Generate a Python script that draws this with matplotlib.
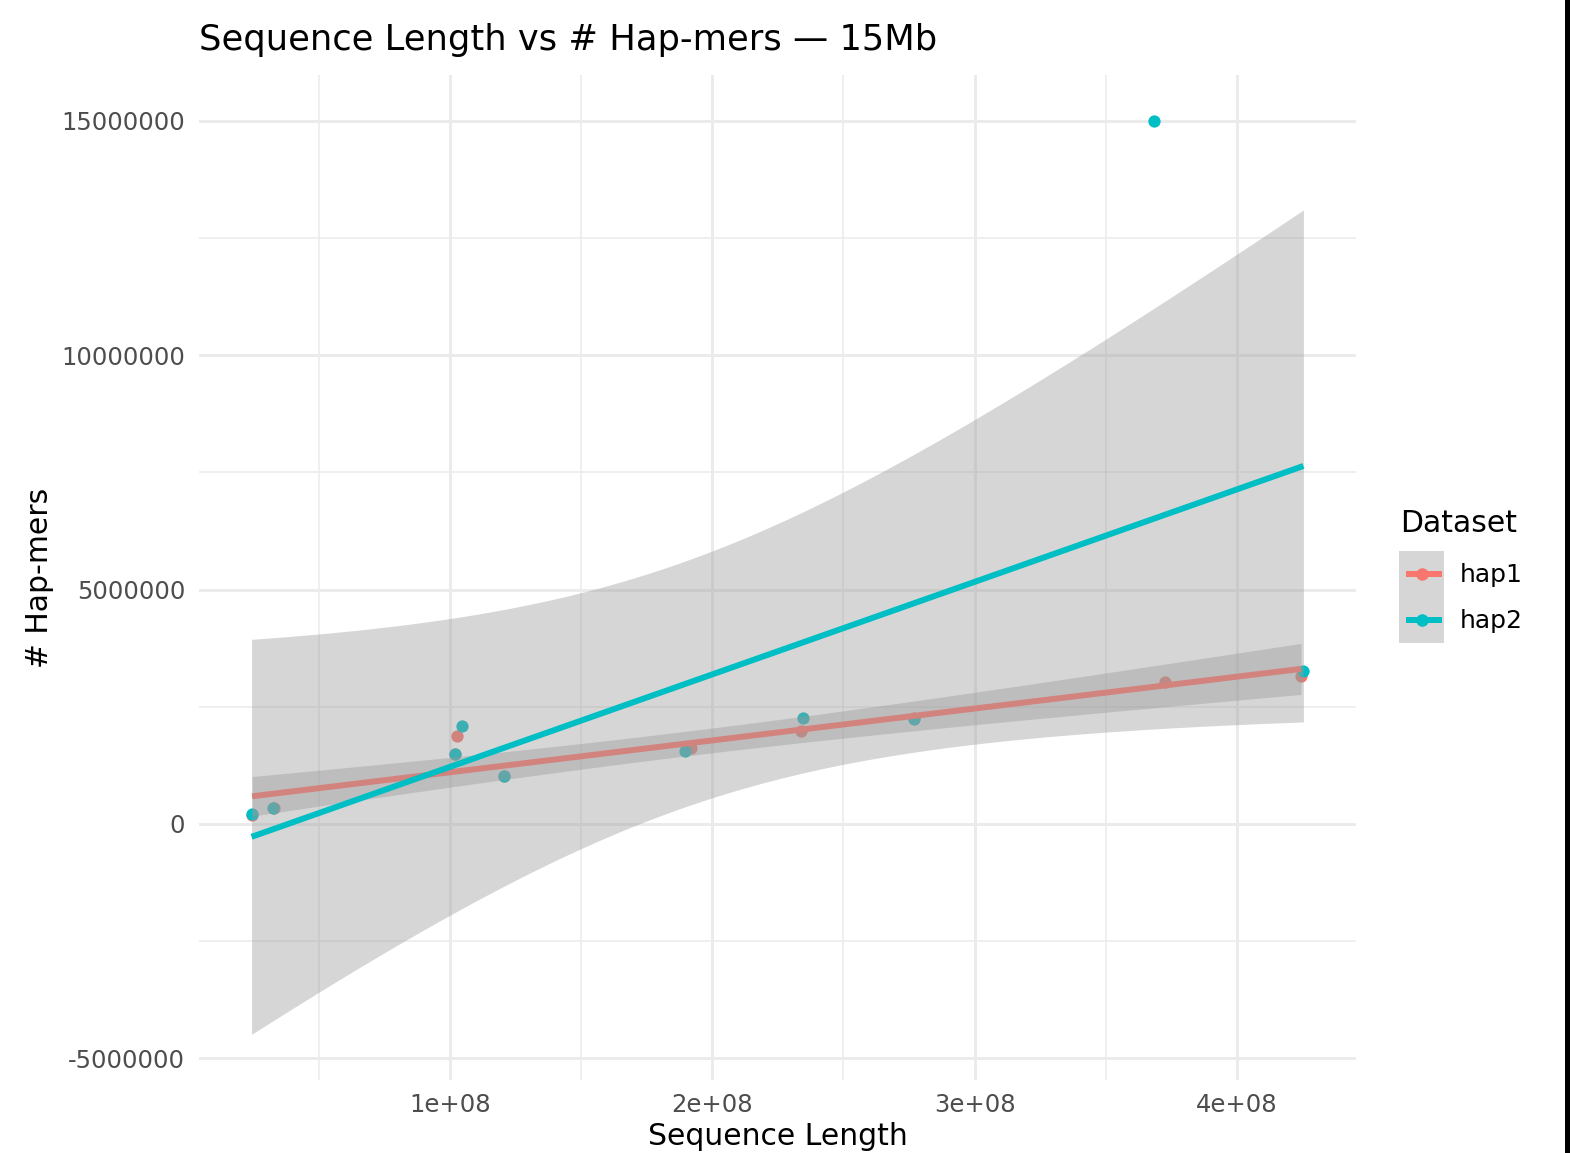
import numpy as np
import matplotlib
matplotlib.use("Agg")
import matplotlib.pyplot as plt
from matplotlib.patches import Rectangle

# sequence length vs number of hap-mers, per haplotype
hap1_len = [2.45e7, 3.30e7, 1.025e8, 1.020e8, 1.205e8, 1.920e8, 2.337e8, 2.770e8, 3.725e8, 4.245e8]
hap1_hapmers = [0.20e6, 0.35e6, 1.88e6, 1.49e6, 1.03e6, 1.63e6, 1.99e6, 2.27e6, 3.02e6, 3.16e6]

hap2_len = [2.43e7, 3.26e7, 1.044e8, 1.019e8, 1.205e8, 1.897e8, 2.346e8, 2.768e8, 3.684e8, 4.254e8]
hap2_hapmers = [0.22e6, 0.35e6, 2.09e6, 1.49e6, 1.03e6, 1.56e6, 2.26e6, 2.24e6, 15.0e6, 3.27e6]

datasets = ["hap1", "hap2"]
colors = {"hap1": "#F8766D", "hap2": "#00BFC4"}

x_ticks = [1e8, 2e8, 3e8, 4e8]
x_tick_labels = ["1e+08", "2e+08", "3e+08", "4e+08"]
y_ticks = [-5e6, 0, 5e6, 10e6, 15e6]
y_tick_labels = ["-5000000", "0", "5000000", "10000000", "15000000"]

T_975_DF8 = 2.306004  # t quantile for 95% CI, n=10


def lm_fit(x, y, n_grid=80):
    x = np.asarray(x)
    y = np.asarray(y)
    slope, intercept = np.polyfit(x, y, 1)
    resid = y - (slope * x + intercept)
    n = len(x)
    s = np.sqrt(np.sum(resid ** 2) / (n - 2))
    sxx = np.sum((x - x.mean()) ** 2)
    xs = np.linspace(x.min(), x.max(), n_grid)
    ys = slope * xs + intercept
    se = s * np.sqrt(1.0 / n + (xs - x.mean()) ** 2 / sxx)
    return xs, ys, ys - T_975_DF8 * se, ys + T_975_DF8 * se


data = {"hap1": (hap1_len, hap1_hapmers), "hap2": (hap2_len, hap2_hapmers)}

W, H = 1570, 1153
fig = plt.figure(figsize=(W / 100, H / 100), dpi=100)
ax = fig.add_axes([199 / W, 1 - 1080 / H, (1356 - 199) / W, (1080 - 75) / H])

# points first, smooths drawn over them
for name in datasets:
    x, y = data[name]
    ax.scatter(x, y, s=78, color=colors[name], linewidths=0, zorder=2)

all_y = []
all_x = []
for name in datasets:
    x, y = data[name]
    xs, ys, lo, hi = lm_fit(x, y)
    ax.fill_between(xs, lo, hi, color="#999999", alpha=0.4, linewidth=0, zorder=3)
    ax.plot(xs, ys, color=colors[name], linewidth=4.3, solid_capstyle="butt", zorder=3)
    all_y += list(lo) + list(hi) + list(y)
    all_x += list(x)

xmin, xmax = min(all_x), max(all_x)
ymin, ymax = min(all_y), max(all_y)
ax.set_xlim(xmin - 0.05 * (xmax - xmin), xmax + 0.05 * (xmax - xmin))
ax.set_ylim(ymin - 0.05 * (ymax - ymin), ymax + 0.05 * (ymax - ymin))

ax.set_xticks(x_ticks)
ax.set_xticklabels(x_tick_labels)
ax.set_yticks(y_ticks)
ax.set_yticklabels(y_tick_labels)
ax.set_xticks([0.5e8, 1.5e8, 2.5e8, 3.5e8], minor=True)
ax.set_yticks([-2.5e6, 2.5e6, 7.5e6, 12.5e6], minor=True)

ax.set_axisbelow(True)
ax.grid(which="major", color="#EBEBEB", linewidth=2.1)
ax.grid(which="minor", color="#EBEBEB", linewidth=1.1)
for sp in ax.spines.values():
    sp.set_visible(False)
ax.tick_params(which="both", length=0)
ax.tick_params(axis="y", labelsize=17.5, labelcolor="#4D4D4D", pad=10)
ax.tick_params(axis="x", labelsize=17.5, labelcolor="#4D4D4D", pad=9)

ax.set_xlabel("Sequence Length", fontsize=21.5, labelpad=4)
ax.set_ylabel("# Hap-mers", fontsize=21.5, labelpad=5)
fig.text(199 / W, 1 - 40 / H, "Sequence Length vs # Hap-mers \u2014 15Mb",
         fontsize=25.4, ha="left", va="center")

# legend: grey key column with line+point glyphs
lax = fig.add_axes([1399 / W, 1 - 643 / H, 45 / W, 92 / H])
lax.set_facecolor("#D6D6D6")
lax.set_xlim(0, 1)
lax.set_ylim(0, 2)
lax.set_xticks([])
lax.set_yticks([])
for sp in lax.spines.values():
    sp.set_visible(False)
for i, name in enumerate(datasets):
    yk = 1.5 - i
    lax.plot([0.15, 0.95], [yk, yk], color=colors[name], linewidth=4.3, solid_capstyle="butt")
    lax.plot([0.52], [yk], marker="o", markersize=9, markeredgewidth=0, color=colors[name])
    fig.text(1460 / W, 1 - (575 + 46 * i) / H, name, fontsize=18, ha="left", va="center")
fig.text(1400 / W, 1 - 523 / H, "Dataset", fontsize=21.5, ha="left", va="center")

# dark strip along the right edge
fig.add_artist(Rectangle((1565 / W, 0), 5 / W, 1, transform=fig.transFigure,
                         color="black", linewidth=0))

fig.savefig("out.png", dpi=100, facecolor="white")
